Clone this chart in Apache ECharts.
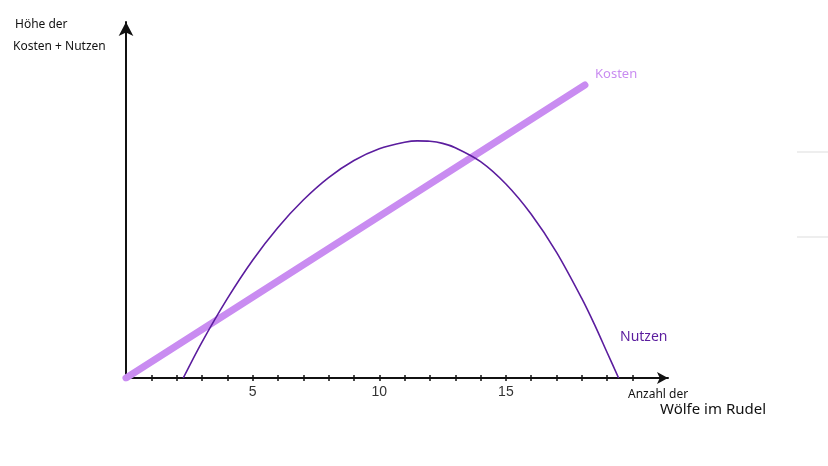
<!DOCTYPE html>
<html>
<head>
<meta charset="utf-8">
<script src="https://cdn.jsdelivr.net/npm/echarts@6/dist/echarts.min.js"></script>
<style>
html,body{margin:0;padding:0;background:#fff;}
#c{width:828px;height:466px;}
</style>
</head>
<body>
<div id="c"></div>
<script>
// Data (x = Anzahl der Wölfe, y = Höhe, arbitrary units 0..100)
const xTicks = [1,2,3,4,5,6,7,8,9,10,11,12,13,14,15,16,17,18,19,20];
const xLabels = [5,10,15];
const kostenData = [[0,0],[18.12,82.3]];
const nutzenData = [
  [2.26,0],[3,10.1],[4,22.3],[5,33.1],[6,42.3],[7,50.0],[8,56.3],[9,61.1],[10,64.4],
  [11,66.2],[11.5,66.6],[12,66.5],[12.5,65.9],[13,64.7],[14,60.8],[15,54.5],[16,46.0],[17,35.3],
  [18,22.3],[18.5,15.0],[19,7.1],[19.45,0]
];

const chart = echarts.init(document.getElementById('c'), null, {renderer:'canvas'});
const baseX = {
  type:'value', min:0, max:21.4, gridIndex:0, position:'bottom',
  splitLine:{show:false}
};
chart.setOption({
  animation:false,
  backgroundColor:'#ffffff',
  grid:{left:126, right:160, top:22, bottom:88, containLabel:false},
  xAxis:[
    Object.assign({}, baseX, {
      axisLine:{show:true, symbol:['none','arrow'], symbolSize:[9,11], lineStyle:{color:'#111', width:2}},
      axisTick:{show:true, customValues:xTicks, length:3, lineStyle:{color:'#111', width:1.5}},
      axisLabel:{show:true, customValues:xLabels, margin:7, color:'#333', fontSize:14, fontFamily:'Liberation Sans, Arial, sans-serif'}
    }),
    Object.assign({}, baseX, {
      axisLine:{show:false},
      axisTick:{show:true, inside:true, customValues:xTicks, length:3, lineStyle:{color:'#111', width:1.5}},
      axisLabel:{show:false}
    })
  ],
  yAxis:{
    type:'value', min:0, max:100,
    axisLine:{show:true, symbol:['none','arrow'], symbolSize:[11,14], lineStyle:{color:'#111', width:2}},
    axisTick:{show:false}, axisLabel:{show:false}, splitLine:{show:false}
  },
  series:[
    {
      name:'Kosten', type:'line', data:kostenData, showSymbol:false, z:2,
      lineStyle:{color:'#c98cf1', width:7, cap:'round'}
    },
    {
      name:'Nutzen', type:'line', data:nutzenData, showSymbol:false, smooth:0.3, z:3,
      lineStyle:{color:'#5b1d9e', width:1.6}
    }
  ],
  graphic:[
    {type:'text', left:15, top:19, style:{text:'Höhe der', fontSize:12, fill:'#111', fontFamily:'Noto Sans, sans-serif'}},
    {type:'text', left:13, top:41, style:{text:'Kosten + Nutzen', fontSize:12, fill:'#111', fontFamily:'Noto Sans, sans-serif'}},
    {type:'text', left:595, top:68, style:{text:'Kosten', fontSize:13, fill:'#c98cf1', fontFamily:'Noto Sans, sans-serif'}},
    {type:'text', left:620, top:330, style:{text:'Nutzen', fontSize:14, fill:'#5b1d9e', fontFamily:'Noto Sans, sans-serif'}},
    {type:'text', left:628, top:389, style:{text:'Anzahl der', fontSize:12, fill:'#111', fontFamily:'Noto Sans, sans-serif'}},
    {type:'text', left:660, top:402, style:{text:'Wölfe im Rudel', fontSize:15, fill:'#111', fontFamily:'Noto Sans, sans-serif'}},
    {type:'line', shape:{x1:797, y1:152, x2:828, y2:152}, style:{stroke:'#dddddd', lineWidth:1}},
    {type:'line', shape:{x1:797, y1:237, x2:828, y2:237}, style:{stroke:'#dddddd', lineWidth:1}}
  ]
});
</script>
</body>
</html>
